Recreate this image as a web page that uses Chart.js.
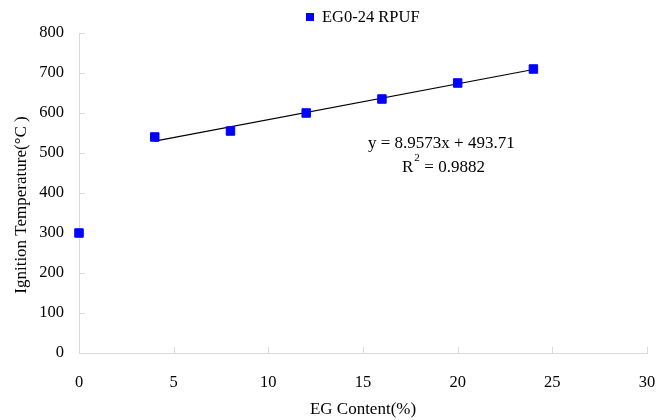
<!DOCTYPE html>
<html>
<head>
<meta charset="utf-8">
<script src="https://cdn.jsdelivr.net/npm/chart.js@4/dist/chart.umd.min.js"></script>
<style>
  html, body { margin: 0; padding: 0; background: #fff; }
  #wrap { width: 657px; height: 420px; }
</style>
</head>
<body>
<div id="wrap"><canvas id="myChart" width="657" height="420"></canvas></div>
<script>
// datos
const egContent = [0, 4, 8, 12, 16, 20, 24];
const ignitionTemp = [300, 540, 555, 600, 635, 675, 710];

// linea de tendencia (extremos de y = 8.9573x + 493.71)
const trendX = [4, 24];
const trendY = [529.5, 708.7];

const legendText = 'EG0-24 RPUF';
const yTitle = 'Ignition Temperature(°C )';
const eqText = 'y = 8.9573x + 493.71';
const r2Text = '= 0.9882';

const blue = '#0000ff';
const axisGray = '#d9d9d9';
const serif = '"Liberation Serif", "Times New Roman", serif';

// ticks hacia adentro (debajo de los puntos), leyenda, titulo y y ecuacion
const extras = {
  id: 'extras',
  beforeDatasetsDraw(chart) {
    const { ctx, chartArea, scales } = chart;
    const x = scales.x, y = scales.y;
    ctx.save();
    ctx.strokeStyle = axisGray;
    ctx.lineWidth = 1;
    ctx.beginPath();
    x.ticks.forEach(t => {
      const px = Math.round(x.getPixelForValue(t.value)) + 0.5;
      ctx.moveTo(px, chartArea.bottom);
      ctx.lineTo(px, chartArea.bottom - 6);
    });
    y.ticks.forEach(t => {
      const py = Math.round(y.getPixelForValue(t.value)) + 0.5;
      ctx.moveTo(chartArea.left, py);
      ctx.lineTo(chartArea.left + 6, py);
    });
    ctx.stroke();
    ctx.restore();
  },
  afterDraw(chart) {
    const { ctx } = chart;
    ctx.save();

    // leyenda
    ctx.fillStyle = blue;
    ctx.fillRect(306, 13, 8, 8);
    ctx.fillStyle = '#000';
    ctx.font = '16.5px ' + serif;
    ctx.textBaseline = 'middle';
    ctx.textAlign = 'left';
    ctx.fillText(legendText, 322, 18);

    // titulo eje y
    ctx.save();
    ctx.translate(22, 205);
    ctx.rotate(-Math.PI / 2);
    ctx.textAlign = 'center';
    ctx.font = '17px ' + serif;
    ctx.fillText(yTitle, 0, 0);
    ctx.restore();

    // ecuacion
    ctx.font = '17px ' + serif;
    ctx.fillText(eqText, 368, 144);
    ctx.fillText('R', 402, 168);
    const rw = ctx.measureText('R').width;
    ctx.font = '11px ' + serif;
    ctx.fillText('2', 402 + rw + 1, 158);
    ctx.font = '17px ' + serif;
    ctx.fillText(r2Text, 402 + rw + 11, 168);
    ctx.restore();
  }
};

const ctx = document.getElementById('myChart');

new Chart(ctx, {
  type: 'scatter',
  data: {
    datasets: [{
      label: legendText,
      data: egContent.map((v, i) => ({ x: v, y: ignitionTemp[i] })),
      backgroundColor: blue,
      borderColor: blue,
      pointStyle: 'rect',
      pointRadius: 6,
      pointHoverRadius: 6,
      clip: false,
      order: 1
    }, {
      label: 'trend',
      type: 'line',
      data: trendX.map((v, i) => ({ x: v, y: trendY[i] })),
      borderColor: '#000',
      borderWidth: 1.2,
      pointRadius: 0,
      fill: false,
      order: 2
    }]
  },
  options: {
    responsive: false,
    animation: false,
    layout: { padding: { top: 33, right: 10, left: 0, bottom: 0 } },
    plugins: {
      legend: { display: false },
      tooltip: { enabled: false }
    },
    scales: {
      x: {
        type: 'linear',
        min: 0,
        max: 30,
        ticks: { stepSize: 5, color: '#000', padding: 12, font: { family: serif, size: 16.5 } },
        grid: { display: false },
        border: { display: true, color: axisGray, width: 1 },
        title: { display: true, text: 'EG Content(%)', color: '#000', font: { family: serif, size: 17 }, padding: { top: 0, bottom: 0 } },
        afterFit(scale) {
          scale.height = 67;
          scale.paddingRight = 10;
        }
      },
      y: {
        min: 0,
        max: 800,
        ticks: { stepSize: 100, color: '#000', padding: 7, font: { family: serif, size: 16.5 } },
        grid: { display: false },
        border: { display: true, color: axisGray, width: 1 },
        afterFit(scale) { scale.width = 79; }
      }
    }
  },
  plugins: [extras]
});
</script>
</body>
</html>
